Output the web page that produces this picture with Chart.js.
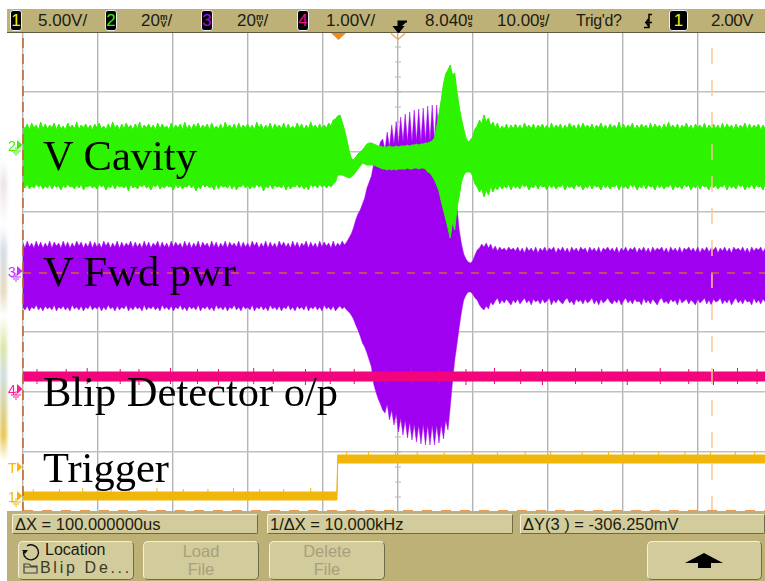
<!DOCTYPE html>
<html>
<head>
<meta charset="utf-8">
<title>Blip detector scope capture</title>
<script src="https://cdn.jsdelivr.net/npm/chart.js@4"></script>
<style>
  html, body { margin: 0; padding: 0; background: #fff; overflow: hidden; }
  #page { position: relative; width: 765px; height: 581px; overflow: hidden; font-family: "Liberation Sans", sans-serif; color: #1c1c10; }
  #page canvas { position: absolute; left: 0; top: 0; }
  #smudge { position: absolute; left: 0; top: 160px; width: 7px; height: 300px; filter: blur(1.5px); background: linear-gradient(#fff, #eee3ea 8%, #fff 22%, #d5dde8 30%, #e6dcc0 44%, #fff 52%, #dfe6a8 62%, #cfe0e4 72%, #e8c850 92%, #fff); }
  #topbar { position: absolute; left: 7px; top: 9px; width: 758px; height: 24px; background: #bdb177; border-bottom: 1px solid #5e5a40; box-sizing: border-box; }
  #botbar { position: absolute; left: 7px; top: 511px; width: 758px; height: 70px; background: #bdb177; }
  .t { position: absolute; top: 11px; font-size: 17px; line-height: 20px; white-space: nowrap; }
  .chip { position: absolute; top: 10px; width: 12px; height: 21px; background: #000; border: 1px solid #eee; border-radius: 3px; box-sizing: border-box; text-align: center; font-size: 17px; line-height: 20px; }
  .u { display: inline-block; font-size: 8.5px; line-height: 7.5px; text-align: center; vertical-align: -1px; font-style: normal; }
  .u i { display: block; font-style: normal; font-weight: bold; }
  .box { position: absolute; top: 514px; height: 20px; background: #d2cb9b; border: 1px solid; border-color: #f4f0dc #6e6a48 #6e6a48 #f4f0dc; border-radius: 2px; box-sizing: border-box; font-size: 16.5px; line-height: 19px; padding-left: 2px; white-space: nowrap; }
  .btn { position: absolute; top: 541px; height: 39px; background: #d2cb9b; border: 1px solid; border-color: #f4f0dc #6e6a48 #6e6a48 #f4f0dc; border-radius: 5px; box-sizing: border-box; text-align: center; font-size: 16.5px; line-height: 18px; color: #a89f7c; }
  .note { position: absolute; left: 43px; font-family: "Liberation Serif", serif; font-size: 42.5px; line-height: 48px; color: #000; white-space: nowrap; }
  .mark { position: absolute; left: 8px; font-size: 14px; line-height: 14px; font-weight: normal; }
</style>
</head>
<body>
<div id="page">
  <div id="smudge"></div>
  <canvas id="scope" width="765" height="581"></canvas>

  <div class="note" style="top:132px">V Cavity</div>
  <div class="note" style="top:248px">V Fwd pwr</div>
  <div class="note" style="top:368px">Blip Detector o/p</div>
  <div class="note" style="top:444px">Trigger</div>

  <div id="marks"></div>

  <div id="topbar"></div>
  <svg style="position:absolute;left:330px;top:33px" width="76" height="8">
    <path d="M1 0 H16 L8.500 7 Z" fill="#f08a1c"/>
    <path d="M61 0.500 L68 6.500 L75 0.500" fill="none" stroke="#f0a050" stroke-width="1.200"/>
  </svg>
  <div class="chip" style="left:10px;color:#f4f000">1</div>
  <div class="t" style="left:38px">5.00V/</div>
  <div class="chip" style="left:105px;color:#30f000">2</div>
  <div class="t" style="left:141px">20<span class="u"><i>m</i><i>V</i></span>/</div>
  <div class="chip" style="left:201px;color:#a010f0">3</div>
  <div class="t" style="left:237px">20<span class="u"><i>m</i><i>V</i></span>/</div>
  <div class="chip" style="left:297px;color:#f0107f">4</div>
  <div class="t" style="left:326px">1.00V/</div>
  <svg style="position:absolute;left:392px;top:20px" width="16" height="13">
    <path d="M15 1.500 H6.500 V9 M2.500 7 H10.500 L6.500 12 Z" fill="#000" stroke="#000" stroke-width="2"/>
  </svg>
  <div class="t" style="left:425px">8.040<span class="u"><i>u</i><i>s</i></span></div>
  <div class="t" style="left:497px">10.00<span class="u"><i>u</i><i>s</i></span>/</div>
  <div class="t" style="left:576px;font-size:16px;letter-spacing:-0.300px">Trig'd?</div>
  <svg style="position:absolute;left:642px;top:13px" width="12" height="16">
    <path d="M10 1.500 H7 V14.500 H2 M3 9.500 H10 M6.500 6 L4 9.500 L6.500 13" fill="none" stroke="#000" stroke-width="1.500"/>
  </svg>
  <div class="chip" style="left:669px;width:19px;color:#f4f000">1</div>
  <div class="t" style="left:711px;letter-spacing:-0.500px">2.00V</div>

  <div id="botbar"></div>
  <div class="box" style="left:12px;width:246px">&#916;X = 100.000000us</div>
  <div class="box" style="left:267px;width:246px">1/&#916;X = 10.000kHz</div>
  <div class="box" style="left:520px;width:245px">&#916;Y(3 ) = -306.250mV</div>
  <div class="btn" style="left:18px;width:116px"></div>
  <svg style="position:absolute;left:20px;top:542px" width="24" height="34">
    <path d="M7 4 A7.500 7.500 0 1 1 3.500 10" fill="none" stroke="#111" stroke-width="1.400"/>
    <path d="M2 8 H8 L5 12 Z" fill="#111"/>
    <path d="M4 22 H9 L11 24 H17 V31 H4 Z M4 25 H17" fill="none" stroke="#444" stroke-width="1.200"/>
  </svg>
  <div style="position:absolute;left:45px;top:540px;font-size:16px;line-height:20px">Location</div>
  <div style="position:absolute;left:40px;top:559px;font-size:16px;line-height:18px;letter-spacing:2.700px;color:#3a3a28;white-space:nowrap">Blip De...</div>
  <div class="btn" style="left:143px;width:116px">Load<br>File</div>
  <div class="btn" style="left:269px;width:116px">Delete<br>File</div>
  <div class="btn" style="left:647px;width:115px"></div>
  <svg style="position:absolute;left:685px;top:552px" width="40" height="17">
    <path d="M0 11 L19 1 L38 11 H26 V16 H13 V11 Z" fill="#000"/>
  </svg>
</div>

<script>
// scope screen: time in us, level in counts from screen centre (60 counts = 1 div)
const timeMin = -41.96;
const timeMax = 56.97;
const levelMax = 240;

const timeDivs = [-41.96, -31.96, -21.96, -11.96, -1.96, 8.04, 18.04, 28.04, 38.04, 48.04];
const centreTime = 8.04;
const minorLevels = [-240, -225, -210, -195, -180, -165, -150, -135, -120, -105, -90, -75, -60, -45, -30, -15, 0,
  15, 30, 45, 60, 75, 90, 105, 120, 135, 150, 165, 180, 195, 210, 225, 240];

const sampleTimes = [
  -42.0, -41.7, -41.4, -41.1, -40.8, -40.5, -40.2, -39.9, -39.6, -39.3,
  -39.0, -38.7, -38.4, -38.1, -37.8, -37.5, -37.2, -36.9, -36.6, -36.3,
  -36.0, -35.7, -35.4, -35.1, -34.8, -34.5, -34.2, -33.9, -33.6, -33.3,
  -33.0, -32.7, -32.4, -32.1, -31.8, -31.5, -31.2, -30.9, -30.6, -30.3,
  -30.0, -29.7, -29.4, -29.1, -28.8, -28.5, -28.2, -27.9, -27.6, -27.3,
  -27.0, -26.7, -26.4, -26.1, -25.8, -25.5, -25.2, -24.9, -24.6, -24.3,
  -24.0, -23.7, -23.4, -23.1, -22.8, -22.5, -22.2, -21.9, -21.6, -21.3,
  -21.0, -20.7, -20.4, -20.1, -19.8, -19.5, -19.2, -18.9, -18.6, -18.3,
  -18.0, -17.7, -17.4, -17.1, -16.8, -16.5, -16.2, -15.9, -15.6, -15.3,
  -15.0, -14.7, -14.4, -14.1, -13.8, -13.5, -13.2, -12.9, -12.6, -12.3,
  -12.0, -11.7, -11.4, -11.1, -10.8, -10.5, -10.2, -9.9, -9.6, -9.3,
  -9.0, -8.7, -8.4, -8.1, -7.8, -7.5, -7.2, -6.9, -6.6, -6.3,
  -6.0, -5.7, -5.4, -5.1, -4.8, -4.5, -4.2, -3.9, -3.6, -3.3,
  -3.0, -2.7, -2.4, -2.1, -1.8, -1.5, -1.2, -0.9, -0.6, -0.3,
  0.0, 0.3, 0.6, 0.9, 1.2, 1.5, 1.8, 2.1, 2.4, 2.7,
  3.0, 3.3, 3.6, 3.9, 4.2, 4.5, 4.8, 5.1, 5.4, 5.7,
  6.0, 6.3, 6.6, 6.9, 7.2, 7.5, 7.8, 8.1, 8.4, 8.7,
  9.0, 9.3, 9.6, 9.9, 10.2, 10.5, 10.8, 11.1, 11.4, 11.7,
  12.0, 12.3, 12.6, 12.9, 13.2, 13.5, 13.8, 14.1, 14.4, 14.7,
  15.0, 15.3, 15.6, 15.9, 16.2, 16.5, 16.8, 17.1, 17.4, 17.7,
  18.0, 18.3, 18.6, 18.9, 19.2, 19.5, 19.8, 20.1, 20.4, 20.7,
  21.0, 21.3, 21.6, 21.9, 22.2, 22.5, 22.8, 23.1, 23.4, 23.7,
  24.0, 24.3, 24.6, 24.9, 25.2, 25.5, 25.8, 26.1, 26.4, 26.7,
  27.0, 27.3, 27.6, 27.9, 28.2, 28.5, 28.8, 29.1, 29.4, 29.7,
  30.0, 30.3, 30.6, 30.9, 31.2, 31.5, 31.8, 32.1, 32.4, 32.7,
  33.0, 33.3, 33.6, 33.9, 34.2, 34.5, 34.8, 35.1, 35.4, 35.7,
  36.0, 36.3, 36.6, 36.9, 37.2, 37.5, 37.8, 38.1, 38.4, 38.7,
  39.0, 39.3, 39.6, 39.9, 40.2, 40.5, 40.8, 41.1, 41.4, 41.7,
  42.0, 42.3, 42.6, 42.9, 43.2, 43.5, 43.8, 44.1, 44.4, 44.7,
  45.0, 45.3, 45.6, 45.9, 46.2, 46.5, 46.8, 47.1, 47.4, 47.7,
  48.0, 48.3, 48.6, 48.9, 49.2, 49.5, 49.8, 50.1, 50.4, 50.7,
  51.0, 51.3, 51.6, 51.9, 52.2, 52.5, 52.8, 53.1, 53.4, 53.7,
  54.0, 54.3, 54.6, 54.9, 55.2, 55.5, 55.8, 56.1, 56.4, 56.7,
  57.0,
];

const cavityTop = [
  147, 143, 148, 142, 149, 144, 147, 142, 150, 143,
  148, 143, 147, 144, 149, 142, 148, 143, 146, 142,
  149, 144, 147, 143, 150, 142, 147, 144, 148, 143,
  147, 142, 148, 144, 149, 143, 146, 142, 148, 143,
  150, 144, 147, 142, 148, 143, 149, 144, 147, 142,
  148, 143, 150, 142, 147, 144, 148, 143, 147, 142,
  149, 143, 148, 144, 146, 142, 149, 143, 147, 144,
  148, 142, 150, 143, 147, 142, 148, 144, 149, 143,
  147, 144, 148, 142, 149, 143, 146, 143, 148, 142,
  150, 144, 147, 143, 148, 142, 149, 143, 147, 144,
  148, 143, 147, 142, 150, 144, 148, 142, 147, 143,
  149, 142, 148, 144, 147, 143, 149, 142, 148, 143,
  146, 143, 149, 144, 148, 142, 147, 143, 150, 144,
  147, 143, 148, 143, 147, 144, 149, 146, 152, 153,
  156, 157, 150, 142, 133, 122, 114, 112, 115, 118,
  120, 122, 125, 128, 129, 129, 128, 127, 126, 126,
  125, 125, 125, 126, 125, 125, 126, 125, 126, 126,
  126, 127, 126, 127, 127, 128, 127, 128, 128, 129,
  129, 130, 131, 134, 145, 158, 172, 188, 198, 202,
  207, 197, 199, 180, 165, 153, 143, 134, 130, 132,
  135, 143, 146, 152, 148, 157, 150, 154, 146, 150,
  144, 149, 142, 146, 143, 148, 142, 147, 143, 148,
  143, 147, 142, 149, 144, 147, 143, 148, 142, 147,
  144, 148, 143, 147, 142, 149, 143, 147, 144, 148,
  142, 147, 143, 149, 144, 147, 142, 148, 143, 149,
  144, 147, 143, 148, 142, 147, 144, 149, 143, 147,
  142, 148, 144, 147, 143, 150, 142, 148, 143, 147,
  144, 149, 142, 147, 143, 148, 144, 147, 142, 149,
  143, 148, 144, 147, 142, 148, 143, 150, 144, 147,
  143, 148, 142, 147, 144, 149, 143, 147, 142, 148,
  144, 147, 143, 149, 142, 147, 144, 148, 143, 147,
  142, 149, 143, 148, 144, 147, 142, 148, 143, 147,
  144, 149, 142, 148, 143, 147, 144, 148, 142, 147,
  143,
];
const cavityBottom = [
  87, 84, 88, 83, 86, 84, 88, 85, 87, 83,
  86, 84, 88, 83, 87, 85, 86, 82, 87, 84,
  88, 85, 86, 83, 87, 84, 88, 82, 86, 85,
  87, 84, 86, 83, 88, 85, 87, 82, 86, 84,
  88, 83, 87, 85, 86, 84, 87, 81, 88, 84,
  86, 83, 87, 85, 88, 84, 86, 82, 87, 85,
  88, 83, 86, 84, 87, 85, 86, 82, 88, 84,
  87, 83, 86, 85, 88, 84, 87, 81, 86, 83,
  88, 85, 87, 84, 86, 82, 88, 83, 87, 85,
  86, 84, 88, 83, 87, 82, 86, 85, 88, 84,
  87, 83, 86, 84, 88, 85, 87, 81, 86, 84,
  88, 83, 87, 85, 86, 84, 88, 82, 87, 83,
  86, 85, 88, 84, 87, 83, 86, 82, 88, 85,
  87, 84, 88, 85, 87, 84, 87, 85, 88, 90,
  97, 97, 97, 96, 95, 94, 95, 97, 100, 103,
  106, 109, 108, 107, 107, 107, 107, 106, 105, 104,
  103, 103, 102, 103, 102, 103, 102, 103, 103, 103,
  103, 104, 103, 103, 104, 104, 103, 104, 104, 103,
  100, 99, 96, 92, 87, 81, 71, 62, 53, 44,
  34, 50, 42, 64, 76, 90, 97, 100, 100, 100,
  96, 88, 85, 80, 84, 75, 82, 77, 86, 80,
  85, 82, 87, 83, 86, 84, 88, 82, 87, 84,
  86, 83, 88, 85, 87, 82, 86, 84, 88, 83,
  87, 85, 86, 82, 88, 84, 87, 83, 86, 85,
  88, 82, 87, 84, 86, 83, 88, 85, 87, 82,
  86, 84, 88, 83, 87, 85, 86, 82, 88, 84,
  87, 83, 86, 85, 88, 82, 87, 84, 86, 83,
  88, 85, 87, 82, 86, 84, 88, 83, 87, 85,
  86, 82, 88, 84, 87, 83, 86, 85, 88, 82,
  87, 84, 86, 83, 88, 85, 87, 82, 86, 84,
  88, 83, 87, 85, 86, 82, 88, 84, 87, 83,
  86, 85, 88, 82, 87, 84, 86, 83, 88, 85,
  87, 82, 86, 84, 88, 83, 87, 85, 86, 82,
  88,
];
const fwdTop = [
  30, 24, 31, 25, 29, 24, 31, 25, 30, 24,
  29, 25, 31, 24, 30, 26, 29, 24, 31, 25,
  30, 24, 29, 25, 31, 26, 30, 24, 29, 25,
  31, 24, 30, 25, 29, 24, 31, 26, 30, 24,
  29, 25, 31, 24, 30, 25, 29, 26, 31, 24,
  30, 25, 29, 24, 31, 25, 30, 24, 29, 26,
  31, 24, 30, 25, 29, 24, 31, 25, 30, 26,
  29, 24, 31, 25, 30, 24, 29, 25, 31, 24,
  30, 26, 29, 24, 31, 25, 30, 24, 29, 25,
  31, 24, 30, 26, 29, 25, 31, 24, 30, 25,
  29, 24, 31, 26, 30, 24, 29, 25, 31, 24,
  30, 25, 29, 24, 31, 26, 30, 25, 29, 24,
  31, 25, 30, 24, 29, 26, 31, 24, 30, 25,
  29, 24, 31, 25, 30, 26, 29, 24, 31, 25,
  29, 26, 31, 27, 30, 34, 38, 44, 52, 58,
  62, 68, 74, 84, 90, 96, 108, 114, 122, 130,
  133, 122, 140, 125, 147, 128, 150, 128, 155, 130,
  158, 130, 160, 130, 162, 131, 163, 130, 164, 131,
  166, 131, 167, 131, 167, 131, 167, 130, 166, 140,
  120, 105, 85, 65, 42, 28, 18, 13, 10, 9,
  11, 17, 22, 24, 28, 25, 29, 24, 28, 22,
  26, 21, 25, 22, 24, 21, 25, 22, 24, 21,
  25, 20, 24, 19, 25, 21, 24, 20, 25, 19,
  24, 21, 25, 20, 24, 22, 25, 19, 24, 21,
  25, 20, 24, 19, 25, 21, 24, 20, 25, 22,
  24, 19, 25, 21, 24, 20, 25, 19, 24, 22,
  25, 21, 24, 20, 25, 19, 24, 21, 25, 20,
  24, 22, 25, 19, 24, 21, 25, 20, 24, 19,
  25, 21, 24, 22, 25, 20, 24, 19, 25, 21,
  24, 20, 25, 19, 24, 22, 25, 21, 24, 20,
  25, 19, 24, 21, 25, 20, 24, 22, 25, 19,
  24, 21, 25, 20, 24, 19, 25, 22, 24, 21,
  25, 20, 24, 19, 25, 21, 24, 22, 25, 20,
  24,
];
const fwdBottom = [
  -35, -38, -34, -39, -35, -37, -33, -38, -35, -39,
  -34, -37, -35, -38, -33, -39, -35, -37, -34, -38,
  -35, -39, -33, -37, -35, -38, -34, -39, -35, -37,
  -33, -38, -35, -37, -34, -39, -35, -38, -33, -37,
  -35, -39, -34, -38, -35, -37, -33, -39, -35, -38,
  -34, -37, -35, -39, -33, -38, -35, -37, -34, -38,
  -35, -39, -33, -37, -35, -38, -34, -39, -35, -37,
  -33, -38, -35, -39, -34, -37, -35, -38, -33, -39,
  -35, -37, -34, -38, -35, -39, -33, -37, -35, -38,
  -34, -39, -35, -37, -33, -38, -35, -39, -34, -37,
  -35, -38, -33, -39, -35, -37, -34, -38, -35, -39,
  -33, -37, -35, -38, -34, -39, -35, -37, -33, -38,
  -35, -39, -34, -37, -35, -38, -33, -39, -35, -37,
  -34, -38, -35, -39, -33, -37, -35, -38, -34, -39,
  -36, -34, -37, -35, -38, -40, -43, -47, -53, -58,
  -64, -71, -75, -81, -88, -95, -112, -120, -127, -132,
  -138, -141, -132, -148, -138, -153, -142, -160, -146, -163,
  -148, -166, -150, -168, -152, -170, -153, -172, -152, -173,
  -153, -173, -153, -173, -153, -171, -152, -167, -148, -158,
  -135, -110, -88, -72, -55, -40, -28, -23, -20, -20,
  -22, -26, -28, -33, -36, -38, -34, -37, -30, -33,
  -29, -26, -32, -28, -31, -27, -30, -33, -28, -31,
  -27, -32, -29, -26, -31, -28, -33, -27, -30, -28,
  -32, -27, -31, -29, -26, -33, -28, -31, -27, -30,
  -32, -28, -26, -31, -29, -33, -27, -30, -28, -32,
  -27, -31, -29, -26, -32, -28, -33, -27, -31, -29,
  -26, -30, -32, -28, -31, -27, -33, -29, -26, -31,
  -28, -32, -27, -30, -29, -33, -26, -31, -28, -32,
  -27, -30, -33, -28, -26, -31, -29, -32, -27, -30,
  -28, -33, -26, -31, -29, -27, -32, -28, -30, -33,
  -27, -31, -29, -26, -32, -28, -33, -27, -30, -29,
  -26, -32, -28, -31, -27, -33, -29, -26, -31, -28,
  -32, -27, -30, -29, -33, -26, -31, -28, -32, -27,
  -30,
];

const blipTimes = [-42.0, 57.0];
const blipTop = [-100, -100];
const blipBottom = [-109, -109];
// little noise spikes along the edges of the flat traces
const blipTickTimes = [-40.1, -36.2, -33.4, -29.0, -26.5, -22.3, -18.7, -15.9, -11.2, -8.6, -4.3, -1.0,
  2.2, 6.4, 9.8, 13.5, 17.1, 20.9, 24.4, 27.3, 31.7, 35.2, 38.6, 43.0, 46.8, 50.1, 53.3, 55.9];
const blipTickTop = [-99, -99, -98, -99, -99, -98, -99, -99, -98, -99, -99, -98,
  -99, -99, -98, -99, -99, -98, -99, -99, -98, -99, -99, -98, -99, -99, -98, -99];
const blipTickBottom = [-110, -111, -110, -110, -111, -110, -110, -111, -110, -110, -111, -110,
  -110, -111, -110, -110, -111, -110, -110, -111, -110, -110, -111, -110, -110, -111, -110, -110];

const triggerTimes = [-42.0, -0.1, 0.0, 57.0];
const triggerTop = [-220, -220, -183, -183];
const triggerBottom = [-228, -228, -191, -191];
const triggerTickTimes = [-40.6, -37.1, -34.0, -30.2, -27.8, -24.1, -20.6, -17.3, -13.9, -10.4, -7.2, -3.6,
  1.2, 4.1, 7.7, 10.6, 14.2, 17.9, 21.3, 25.0, 28.4, 32.6, 36.1, 39.5, 42.8, 46.3, 49.7, 53.0, 55.6];
const triggerTickLevels = [-219, -219, -218, -219, -219, -218, -219, -219, -218, -219, -219, -218,
  -182, -182, -181, -182, -182, -181, -182, -182, -181, -182, -182, -181, -182, -182, -181, -182, -182];

// cursors, dashed
const cursorLevelA = -1;
const cursorLevelB = -239;
const cursorTimeA = -41.96;
const cursorTimeB = 49.9;

const channelMarks = [
  { label: "2", color: "#40f000", top: 139, ground: true },
  { label: "3", color: "#c030ff", top: 265, ground: true },
  { label: "4", color: "#ff1a96", top: 383, ground: true },
  { label: "T", color: "#ffb400", top: 461, ground: false },
  { label: "1", color: "#f2b400", top: 490, ground: true },
];

function toPoints(times, values) {
  return times.map((t, i) => ({ x: t, y: values[i] }));
}

function bandDatasets(times, top, bottom, color, order, width) {
  const base = { borderColor: color, backgroundColor: color, borderWidth: width, pointRadius: 0, tension: 0, order: order };
  return [
    { ...base, data: toPoints(times, top), fill: "+1" },
    { ...base, data: toPoints(times, bottom), fill: false },
  ];
}

function tickDataset(times, levels, color, order) {
  return {
    data: toPoints(times, levels),
    showLine: false,
    pointStyle: "line",
    pointRotation: 90,
    pointRadius: 2,
    borderColor: color,
    borderWidth: 1,
    order: order,
  };
}

function cursorDataset(points, color, dash) {
  return { data: points, borderColor: color, borderWidth: 1.5, borderDash: dash, pointRadius: 0, fill: false, clip: false, order: 0 };
}

/** Channel markers at the left edge of the screen */
function addChannelMarks() {
  const holder = document.getElementById("marks");
  channelMarks.forEach((m) => {
    const el = document.createElement("div");
    el.className = "mark";
    el.style.top = `${m.top}px`;
    el.style.color = m.color;
    el.textContent = m.label;
    holder.appendChild(el);

    const ground = m.ground ? `<path d="M7 8 V12 M2 12 H12 M4 14 H10 M6 16 H8" stroke="${m.color}" fill="none"/>` : "";
    const svg = document.createElementNS("http://www.w3.org/2000/svg", "svg");
    svg.setAttribute("width", "16");
    svg.setAttribute("height", "18");
    svg.style.cssText = `position:absolute;left:9px;top:${m.top}px`;
    svg.innerHTML = `<path d="M8 1 L13.500 6 L8 11 Z" fill="${m.color}"/>${ground}`;
    holder.appendChild(svg);
  });
}

addChannelMarks();

const datasets = [
  cursorDataset([{ x: timeMin, y: cursorLevelA }, { x: timeMax, y: cursorLevelA }], "#d8603a", [8, 8]),
  cursorDataset([{ x: timeMin, y: cursorLevelB }, { x: timeMax, y: cursorLevelB }], "#e07a20", [10, 9]),
  cursorDataset([{ x: cursorTimeA, y: -levelMax }, { x: cursorTimeA, y: levelMax }], "#c8641e", [10, 6]),
  cursorDataset([{ x: cursorTimeB, y: -levelMax }, { x: cursorTimeB, y: levelMax }], "#ffc596", [16, 16]),
  ...bandDatasets(sampleTimes, cavityTop, cavityBottom, "#2df200", 1, 1),
  ...bandDatasets(blipTimes, blipTop, blipBottom, "#f2047c", 2, 1),
  tickDataset(blipTickTimes, blipTickTop, "#f2047c", 2),
  tickDataset(blipTickTimes, blipTickBottom, "#f2047c", 2),
  ...bandDatasets(sampleTimes, fwdTop, fwdBottom, "#a000f0", 3, 0.5),
  ...bandDatasets(triggerTimes, triggerTop, triggerBottom, "#f0b70a", 4, 1),
  tickDataset(triggerTickTimes, triggerTickLevels, "#f0b70a", 4),
  {
    data: minorLevels.map((level) => ({ x: centreTime, y: level })),
    showLine: false,
    pointStyle: "line",
    pointRadius: 3,
    borderColor: "#b8b8b8",
    borderWidth: 1,
    order: 9,
  },
];

new Chart(document.getElementById("scope"), {
  type: "line",
  data: { datasets: datasets },
  options: {
    responsive: false,
    animation: false,
    layout: { autoPadding: false, padding: { left: 23, top: 32, right: 0, bottom: 69 } },
    plugins: { legend: { display: false }, tooltip: { enabled: false } },
    scales: {
      x: {
        type: "linear",
        min: timeMin,
        max: timeMax,
        afterBuildTicks: (scale) => {
          scale.ticks = timeDivs.map((t) => ({ value: t }));
        },
        ticks: { display: false },
        border: { display: false },
        grid: { color: "#b4b4b4", lineWidth: 1.4, drawTicks: false },
      },
      y: {
        min: -levelMax,
        max: levelMax,
        ticks: { display: false, stepSize: 60 },
        border: { display: false },
        grid: { color: "#c0c0c0", lineWidth: 1.4, drawTicks: false },
      },
    },
  },
});
</script>
</body>
</html>
